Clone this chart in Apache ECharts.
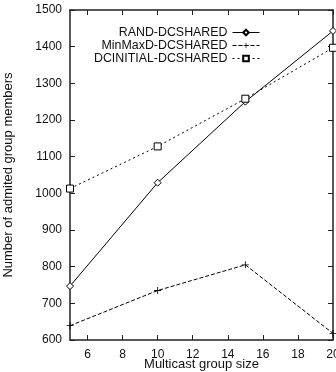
<!DOCTYPE html>
<html>
<head>
<meta charset="utf-8">
<script src="https://cdn.jsdelivr.net/npm/echarts@6/dist/echarts.min.js"></script>
<style>
  html, body { margin: 0; padding: 0; background: #fff; }
  #chart { width: 336px; height: 372px; }
</style>
</head>
<body>
<div id="chart"></div>
<script>
// group sizes on the x axis
const groupSizes = [5, 10, 15, 20];
const randShared = [747, 1029, 1250, 1443];
const minMaxShared = [639, 735, 805, 618];
const initialShared = [1013, 1128, 1258, 1397];
const xTicks = [6, 8, 10, 12, 14, 16, 18, 20];

const font = 'Liberation Sans, Arial, sans-serif';
const frame = { show: true, lineStyle: { color: '#222', width: 1.5 } };
const plus = 'path://M-0.12,-1H0.12V-0.12H1V0.12H0.12V1H-0.12V0.12H-1V-0.12H-0.12Z';

function pairs(ys) {
  return groupSizes.map((x, i) => [x, ys[i]]);
}

const chart = echarts.init(document.getElementById('chart'));

const option = {
  animation: false,
  textStyle: { fontFamily: font },
  grid: { left: 70, right: 3, top: 10, bottom: 32, outerBoundsMode: 'none', containLabel: false },
  legend: {
    orient: 'vertical',
    right: 76,
    top: 26,
    padding: 0,
    align: 'right',
    itemWidth: 27,
    itemHeight: 7,
    itemGap: 0,
    lineStyle: { width: 1 },
    textStyle: { fontFamily: font, fontSize: 12.4, lineHeight: 13, color: '#111' },
    data: ['RAND-DCSHARED', 'MinMaxD-DCSHARED', 'DCINITIAL-DCSHARED']
  },
  xAxis: [
    {
      type: 'value',
      min: 5,
      max: 20,
      axisLine: frame,
      splitLine: { show: false },
      axisTick: { inside: true, length: 5, customValues: xTicks, lineStyle: { color: '#222' } },
      axisLabel: { customValues: xTicks, fontSize: 12, color: '#111', margin: 9, fontFamily: font },
      name: 'Multicast group size',
      nameLocation: 'middle',
      nameGap: 18,
      nameMoveOverlap: false,
      nameTextStyle: { fontSize: 13, color: '#111', fontFamily: font }
    },
    {
      type: 'value',
      position: 'top',
      min: 5,
      max: 20,
      axisLine: frame,
      splitLine: { show: false },
      axisTick: { inside: true, length: 5, customValues: xTicks, lineStyle: { color: '#222' } },
      axisLabel: { show: false }
    }
  ],
  yAxis: [
    {
      type: 'value',
      min: 600,
      max: 1500,
      interval: 100,
      axisLine: frame,
      splitLine: { show: false },
      axisTick: { inside: true, length: 5, lineStyle: { color: '#222' } },
      axisLabel: { fontSize: 12, color: '#111', margin: 8, fontFamily: font, formatter: v => String(v) },
      name: 'Number of admited group members',
      nameLocation: 'middle',
      nameGap: 55,
      nameMoveOverlap: false,
      nameTextStyle: { fontSize: 13, color: '#111', fontFamily: font }
    },
    {
      type: 'value',
      position: 'right',
      min: 600,
      max: 1500,
      interval: 100,
      axisLine: frame,
      splitLine: { show: false },
      axisTick: { inside: true, length: 5, lineStyle: { color: '#222' } },
      axisLabel: { show: false }
    }
  ],
  series: [
    {
      name: 'RAND-DCSHARED',
      type: 'line',
      data: pairs(randShared),
      clip: false,
      symbol: 'diamond',
      symbolSize: 7,
      lineStyle: { color: '#000', width: 1, type: 'solid' },
      itemStyle: { color: '#fff', borderColor: '#000', borderWidth: 1 }
    },
    {
      name: 'MinMaxD-DCSHARED',
      type: 'line',
      data: pairs(minMaxShared),
      clip: false,
      symbol: plus,
      symbolSize: 7,
      lineStyle: { color: '#000', width: 1, type: [4, 2] },
      itemStyle: { color: '#000', borderWidth: 0 }
    },
    {
      name: 'DCINITIAL-DCSHARED',
      type: 'line',
      data: pairs(initialShared),
      clip: false,
      symbol: 'rect',
      symbolSize: 7,
      lineStyle: { color: '#000', width: 1, type: [2, 3] },
      itemStyle: { color: '#fff', borderColor: '#000', borderWidth: 1 }
    }
  ]
};

chart.setOption(option);
</script>
</body>
</html>
